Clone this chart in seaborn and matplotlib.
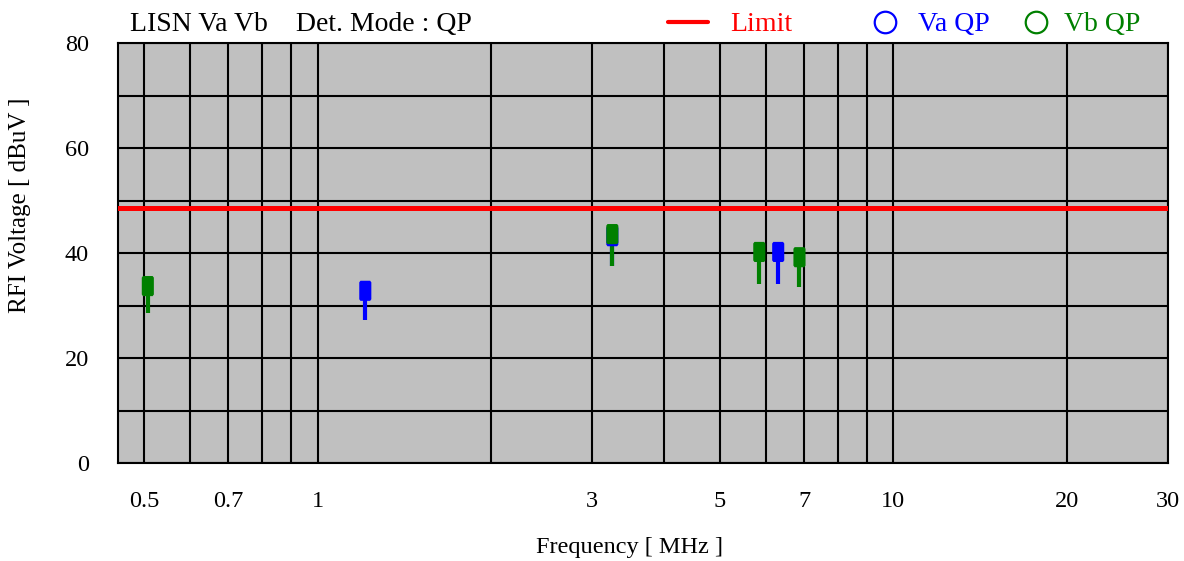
import numpy as np
import pandas as pd
import matplotlib
matplotlib.use("Agg")
import matplotlib.pyplot as plt
import seaborn as sns
from matplotlib.lines import Line2D

# measured peaks (QP value at marker centre, stem drops to lower reading)
freq = [0.507, 1.21, 3.25, 3.25, 5.85, 6.31, 6.87]
qp = [33.7, 32.8, 43.2, 43.6, 40.2, 40.2, 39.2]
low = [28.6, 27.2, 37.5, 37.5, 34.1, 34.1, 33.5]
line = ["Vb", "Va", "Va", "Vb", "Vb", "Va", "Vb"]

limit_val = 48.5
xlim = [0.45, 30]

major_ticks = [0.5, 0.7, 1, 3, 5, 7, 10, 20, 30]
major_labels = ["0.5", "0.7", "1", "3", "5", "7", "10", "20", "30"]
minor_ticks = [0.6, 0.8, 0.9, 2, 4, 6, 8, 9]
y_ticks = [0, 20, 40, 60, 80]
y_grid = [10, 30, 50, 70]

df = pd.DataFrame({"freq": freq, "qp": qp, "low": low, "line": line})
colors = {"Va": "#0000ff", "Vb": "#008000"}

# tall rounded box marker
box = [(-0.3, -0.42), (-0.24, -0.5), (0.24, -0.5), (0.3, -0.42),
       (0.3, 0.42), (0.24, 0.5), (-0.24, 0.5), (-0.3, 0.42), (-0.3, -0.42)]

sns.set_style("white")
plt.rcParams["font.family"] = ["Liberation Serif", "DejaVu Serif"]
plt.rcParams["text.color"] = "black"
plt.rcParams["xtick.color"] = "black"
plt.rcParams["ytick.color"] = "black"
plt.rcParams["xtick.labelcolor"] = "black"
plt.rcParams["ytick.labelcolor"] = "black"

fig = plt.figure(figsize=(11.84, 5.61), dpi=100)
ax = fig.add_axes([118 / 1184, 1 - 463 / 561, 1050 / 1184, 420 / 561])
ax.set_facecolor("#c0c0c0")

ax.set_xscale("log")
ax.set_xlim(xlim)
ax.set_ylim(0, 80)

ax.set_xticks(major_ticks)
ax.set_xticklabels(major_labels)
ax.set_xticks(minor_ticks, minor=True)
ax.set_xticklabels([], minor=True)
ax.set_yticks(y_ticks)
ax.set_yticks(y_grid, minor=True)
ax.tick_params(axis="both", which="both", length=0, labelsize=17.5,
               labelcolor="black")
ax.tick_params(axis="x", pad=20)
ax.tick_params(axis="y", pad=21)
ax.grid(True, which="both", color="black", linewidth=1.5)
ax.set_axisbelow(True)
for s in ax.spines.values():
    s.set_color("black")
    s.set_linewidth(1.5)

ax.axhline(limit_val, color="#ff0000", linewidth=3.6, zorder=3)

for _, r in df.iterrows():
    ax.vlines(r["freq"], r["low"], r["qp"], color=colors[r["line"]],
              linewidth=3, zorder=4)
sns.scatterplot(data=df, x="freq", y="qp", hue="line", palette=colors,
                marker=box, s=210, linewidth=0, legend=False, zorder=5, ax=ax)

ax.set_xlabel("")
ax.set_ylabel("")
fig.text(20 / 1184, 1 - 205 / 561, "RFI Voltage [ dBuV ]", rotation=90,
         ha="center", va="center", fontsize=18, color="black")
fig.text(630 / 1184, 1 - 548 / 561, "Frequency [ MHz ]",
         ha="center", va="center", fontsize=17.5, color="black")

# header / legend row
hy = 1 - 22 / 561
by = 1 - 31 / 561
fig.text(130 / 1184, by, "LISN Va Vb    Det. Mode : QP",
         ha="left", va="baseline", fontsize=20, color="black")
fig.add_artist(Line2D([668 / 1184, 708 / 1184], [hy] * 2,
                      color="#ff0000", linewidth=3, transform=fig.transFigure))
fig.text(730 / 1184, by, "Limit", color="#ff0000",
         ha="left", va="baseline", fontsize=20)
fig.add_artist(Line2D([885 / 1184], [hy], marker="o", markersize=15.5,
                      fillstyle="none", markeredgewidth=1.6, color="#0000ff",
                      transform=fig.transFigure))
fig.text(918 / 1184, by, "Va QP", color="#0000ff",
         ha="left", va="baseline", fontsize=20)
fig.add_artist(Line2D([1036 / 1184], [hy], marker="o", markersize=15.5,
                      fillstyle="none", markeredgewidth=1.6, color="#008000",
                      transform=fig.transFigure))
fig.text(1064 / 1184, by, "Vb QP", color="#008000",
         ha="left", va="baseline", fontsize=20)

fig.savefig("out.png", dpi=100)
